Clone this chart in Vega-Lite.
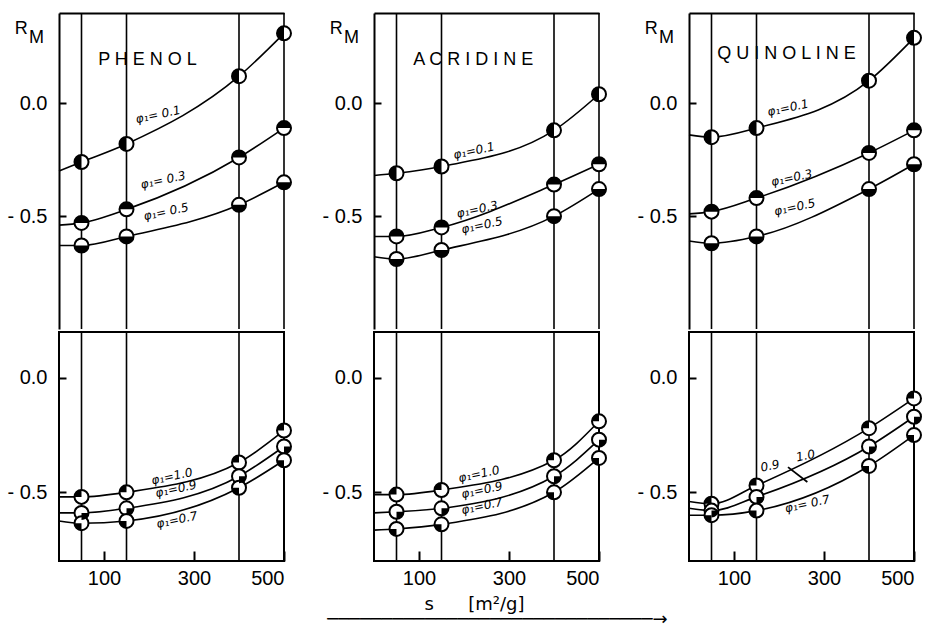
{
  "$schema": "https://vega.github.io/schema/vega-lite/v6.json",
  "background": "white",
  "padding": {"left": 5, "right": 5, "top": 12, "bottom": 2},
  "spacing": 0,
  "title": {
    "text": ["\u200b\u00a0\u00a0\u00a0s\u00a0\u00a0\u00a0\u00a0\u00a0\u00a0[m²/g]", "\u200b\u00a0\u00a0\u00a0\u00a0\u00a0\u00a0\u00a0\u00a0\u00a0\u00a0\u00a0──────────────────────────────→"],
    "orient": "bottom",
    "anchor": "middle",
    "font": "DejaVu Sans",
    "fontSize": 18,
    "fontWeight": "normal",
    "lineHeight": 15,
    "offset": 8,
    "color": "black"
  },
  "datasets": {
    "d": [
      {"kind": "vline", "compound": "PHENOL", "part": "both", "s": 50},
      {"kind": "vline", "compound": "PHENOL", "part": "both", "s": 150},
      {"kind": "vline", "compound": "PHENOL", "part": "both", "s": 400},
      {"kind": "vline", "compound": "PHENOL", "part": "both", "s": 500},
      {"kind": "vline", "compound": "ACRIDINE", "part": "both", "s": 50},
      {"kind": "vline", "compound": "ACRIDINE", "part": "both", "s": 150},
      {"kind": "vline", "compound": "ACRIDINE", "part": "both", "s": 400},
      {"kind": "vline", "compound": "ACRIDINE", "part": "both", "s": 500},
      {"kind": "vline", "compound": "QUINOLINE", "part": "both", "s": 50},
      {"kind": "vline", "compound": "QUINOLINE", "part": "both", "s": 150},
      {"kind": "vline", "compound": "QUINOLINE", "part": "both", "s": 400},
      {"kind": "vline", "compound": "QUINOLINE", "part": "both", "s": 500},

      {"kind": "start", "compound": "PHENOL", "part": "upper", "phi": "0.1", "s": 0, "RM": -0.30},
      {"kind": "pt", "compound": "PHENOL", "part": "upper", "phi": "0.1", "s": 50, "RM": -0.26},
      {"kind": "pt", "compound": "PHENOL", "part": "upper", "phi": "0.1", "s": 150, "RM": -0.18},
      {"kind": "pt", "compound": "PHENOL", "part": "upper", "phi": "0.1", "s": 400, "RM": 0.12},
      {"kind": "pt", "compound": "PHENOL", "part": "upper", "phi": "0.1", "s": 500, "RM": 0.31},
      {"kind": "start", "compound": "PHENOL", "part": "upper", "phi": "0.3", "s": 0, "RM": -0.54},
      {"kind": "pt", "compound": "PHENOL", "part": "upper", "phi": "0.3", "s": 50, "RM": -0.53},
      {"kind": "pt", "compound": "PHENOL", "part": "upper", "phi": "0.3", "s": 150, "RM": -0.47},
      {"kind": "pt", "compound": "PHENOL", "part": "upper", "phi": "0.3", "s": 400, "RM": -0.24},
      {"kind": "pt", "compound": "PHENOL", "part": "upper", "phi": "0.3", "s": 500, "RM": -0.11},
      {"kind": "start", "compound": "PHENOL", "part": "upper", "phi": "0.5", "s": 0, "RM": -0.63},
      {"kind": "pt", "compound": "PHENOL", "part": "upper", "phi": "0.5", "s": 50, "RM": -0.63},
      {"kind": "pt", "compound": "PHENOL", "part": "upper", "phi": "0.5", "s": 150, "RM": -0.59},
      {"kind": "pt", "compound": "PHENOL", "part": "upper", "phi": "0.5", "s": 400, "RM": -0.45},
      {"kind": "pt", "compound": "PHENOL", "part": "upper", "phi": "0.5", "s": 500, "RM": -0.35},

      {"kind": "start", "compound": "PHENOL", "part": "lower", "phi": "1.0", "s": 0, "RM": -0.52},
      {"kind": "pt", "compound": "PHENOL", "part": "lower", "phi": "1.0", "s": 50, "RM": -0.52},
      {"kind": "pt", "compound": "PHENOL", "part": "lower", "phi": "1.0", "s": 150, "RM": -0.50},
      {"kind": "pt", "compound": "PHENOL", "part": "lower", "phi": "1.0", "s": 400, "RM": -0.37},
      {"kind": "pt", "compound": "PHENOL", "part": "lower", "phi": "1.0", "s": 500, "RM": -0.23},
      {"kind": "start", "compound": "PHENOL", "part": "lower", "phi": "0.9", "s": 0, "RM": -0.59},
      {"kind": "pt", "compound": "PHENOL", "part": "lower", "phi": "0.9", "s": 50, "RM": -0.59},
      {"kind": "pt", "compound": "PHENOL", "part": "lower", "phi": "0.9", "s": 150, "RM": -0.57},
      {"kind": "pt", "compound": "PHENOL", "part": "lower", "phi": "0.9", "s": 400, "RM": -0.43},
      {"kind": "pt", "compound": "PHENOL", "part": "lower", "phi": "0.9", "s": 500, "RM": -0.30},
      {"kind": "start", "compound": "PHENOL", "part": "lower", "phi": "0.7", "s": 0, "RM": -0.625},
      {"kind": "pt", "compound": "PHENOL", "part": "lower", "phi": "0.7", "s": 50, "RM": -0.635},
      {"kind": "pt", "compound": "PHENOL", "part": "lower", "phi": "0.7", "s": 150, "RM": -0.625},
      {"kind": "pt", "compound": "PHENOL", "part": "lower", "phi": "0.7", "s": 400, "RM": -0.48},
      {"kind": "pt", "compound": "PHENOL", "part": "lower", "phi": "0.7", "s": 500, "RM": -0.36},

      {"kind": "start", "compound": "ACRIDINE", "part": "upper", "phi": "0.1", "s": 0, "RM": -0.32},
      {"kind": "pt", "compound": "ACRIDINE", "part": "upper", "phi": "0.1", "s": 50, "RM": -0.31},
      {"kind": "pt", "compound": "ACRIDINE", "part": "upper", "phi": "0.1", "s": 150, "RM": -0.28},
      {"kind": "pt", "compound": "ACRIDINE", "part": "upper", "phi": "0.1", "s": 400, "RM": -0.12},
      {"kind": "pt", "compound": "ACRIDINE", "part": "upper", "phi": "0.1", "s": 500, "RM": 0.04},
      {"kind": "start", "compound": "ACRIDINE", "part": "upper", "phi": "0.3", "s": 0, "RM": -0.59},
      {"kind": "pt", "compound": "ACRIDINE", "part": "upper", "phi": "0.3", "s": 50, "RM": -0.59},
      {"kind": "pt", "compound": "ACRIDINE", "part": "upper", "phi": "0.3", "s": 150, "RM": -0.55},
      {"kind": "pt", "compound": "ACRIDINE", "part": "upper", "phi": "0.3", "s": 400, "RM": -0.36},
      {"kind": "pt", "compound": "ACRIDINE", "part": "upper", "phi": "0.3", "s": 500, "RM": -0.27},
      {"kind": "start", "compound": "ACRIDINE", "part": "upper", "phi": "0.5", "s": 0, "RM": -0.68},
      {"kind": "pt", "compound": "ACRIDINE", "part": "upper", "phi": "0.5", "s": 50, "RM": -0.69},
      {"kind": "pt", "compound": "ACRIDINE", "part": "upper", "phi": "0.5", "s": 150, "RM": -0.65},
      {"kind": "pt", "compound": "ACRIDINE", "part": "upper", "phi": "0.5", "s": 400, "RM": -0.50},
      {"kind": "pt", "compound": "ACRIDINE", "part": "upper", "phi": "0.5", "s": 500, "RM": -0.38},

      {"kind": "start", "compound": "ACRIDINE", "part": "lower", "phi": "1.0", "s": 0, "RM": -0.51},
      {"kind": "pt", "compound": "ACRIDINE", "part": "lower", "phi": "1.0", "s": 50, "RM": -0.51},
      {"kind": "pt", "compound": "ACRIDINE", "part": "lower", "phi": "1.0", "s": 150, "RM": -0.49},
      {"kind": "pt", "compound": "ACRIDINE", "part": "lower", "phi": "1.0", "s": 400, "RM": -0.36},
      {"kind": "pt", "compound": "ACRIDINE", "part": "lower", "phi": "1.0", "s": 500, "RM": -0.19},
      {"kind": "start", "compound": "ACRIDINE", "part": "lower", "phi": "0.9", "s": 0, "RM": -0.59},
      {"kind": "pt", "compound": "ACRIDINE", "part": "lower", "phi": "0.9", "s": 50, "RM": -0.585},
      {"kind": "pt", "compound": "ACRIDINE", "part": "lower", "phi": "0.9", "s": 150, "RM": -0.57},
      {"kind": "pt", "compound": "ACRIDINE", "part": "lower", "phi": "0.9", "s": 400, "RM": -0.43},
      {"kind": "pt", "compound": "ACRIDINE", "part": "lower", "phi": "0.9", "s": 500, "RM": -0.27},
      {"kind": "start", "compound": "ACRIDINE", "part": "lower", "phi": "0.7", "s": 0, "RM": -0.665},
      {"kind": "pt", "compound": "ACRIDINE", "part": "lower", "phi": "0.7", "s": 50, "RM": -0.66},
      {"kind": "pt", "compound": "ACRIDINE", "part": "lower", "phi": "0.7", "s": 150, "RM": -0.64},
      {"kind": "pt", "compound": "ACRIDINE", "part": "lower", "phi": "0.7", "s": 400, "RM": -0.50},
      {"kind": "pt", "compound": "ACRIDINE", "part": "lower", "phi": "0.7", "s": 500, "RM": -0.35},

      {"kind": "start", "compound": "QUINOLINE", "part": "upper", "phi": "0.1", "s": 0, "RM": -0.14},
      {"kind": "pt", "compound": "QUINOLINE", "part": "upper", "phi": "0.1", "s": 50, "RM": -0.15},
      {"kind": "pt", "compound": "QUINOLINE", "part": "upper", "phi": "0.1", "s": 150, "RM": -0.11},
      {"kind": "pt", "compound": "QUINOLINE", "part": "upper", "phi": "0.1", "s": 400, "RM": 0.10},
      {"kind": "pt", "compound": "QUINOLINE", "part": "upper", "phi": "0.1", "s": 500, "RM": 0.29},
      {"kind": "start", "compound": "QUINOLINE", "part": "upper", "phi": "0.3", "s": 0, "RM": -0.49},
      {"kind": "pt", "compound": "QUINOLINE", "part": "upper", "phi": "0.3", "s": 50, "RM": -0.48},
      {"kind": "pt", "compound": "QUINOLINE", "part": "upper", "phi": "0.3", "s": 150, "RM": -0.42},
      {"kind": "pt", "compound": "QUINOLINE", "part": "upper", "phi": "0.3", "s": 400, "RM": -0.22},
      {"kind": "pt", "compound": "QUINOLINE", "part": "upper", "phi": "0.3", "s": 500, "RM": -0.12},
      {"kind": "start", "compound": "QUINOLINE", "part": "upper", "phi": "0.5", "s": 0, "RM": -0.61},
      {"kind": "pt", "compound": "QUINOLINE", "part": "upper", "phi": "0.5", "s": 50, "RM": -0.62},
      {"kind": "pt", "compound": "QUINOLINE", "part": "upper", "phi": "0.5", "s": 150, "RM": -0.59},
      {"kind": "pt", "compound": "QUINOLINE", "part": "upper", "phi": "0.5", "s": 400, "RM": -0.38},
      {"kind": "pt", "compound": "QUINOLINE", "part": "upper", "phi": "0.5", "s": 500, "RM": -0.27},

      {"kind": "start", "compound": "QUINOLINE", "part": "lower", "phi": "1.0", "s": 0, "RM": -0.54},
      {"kind": "pt", "compound": "QUINOLINE", "part": "lower", "phi": "1.0", "s": 50, "RM": -0.55},
      {"kind": "pt", "compound": "QUINOLINE", "part": "lower", "phi": "1.0", "s": 150, "RM": -0.47},
      {"kind": "pt", "compound": "QUINOLINE", "part": "lower", "phi": "1.0", "s": 400, "RM": -0.22},
      {"kind": "pt", "compound": "QUINOLINE", "part": "lower", "phi": "1.0", "s": 500, "RM": -0.09},
      {"kind": "start", "compound": "QUINOLINE", "part": "lower", "phi": "0.9", "s": 0, "RM": -0.57},
      {"kind": "pt", "compound": "QUINOLINE", "part": "lower", "phi": "0.9", "s": 50, "RM": -0.58},
      {"kind": "pt", "compound": "QUINOLINE", "part": "lower", "phi": "0.9", "s": 150, "RM": -0.52},
      {"kind": "pt", "compound": "QUINOLINE", "part": "lower", "phi": "0.9", "s": 400, "RM": -0.30},
      {"kind": "pt", "compound": "QUINOLINE", "part": "lower", "phi": "0.9", "s": 500, "RM": -0.17},
      {"kind": "start", "compound": "QUINOLINE", "part": "lower", "phi": "0.7", "s": 0, "RM": -0.60},
      {"kind": "pt", "compound": "QUINOLINE", "part": "lower", "phi": "0.7", "s": 50, "RM": -0.60},
      {"kind": "pt", "compound": "QUINOLINE", "part": "lower", "phi": "0.7", "s": 150, "RM": -0.58},
      {"kind": "pt", "compound": "QUINOLINE", "part": "lower", "phi": "0.7", "s": 400, "RM": -0.385},
      {"kind": "pt", "compound": "QUINOLINE", "part": "lower", "phi": "0.7", "s": 500, "RM": -0.25},

      {"kind": "lab", "compound": "PHENOL", "part": "upper", "s": 220, "RM": -0.05, "text": "φ₁= 0.1"},
      {"kind": "lab", "compound": "PHENOL", "part": "upper", "s": 231, "RM": -0.34, "text": "φ₁= 0.3"},
      {"kind": "lab", "compound": "PHENOL", "part": "upper", "s": 238, "RM": -0.48, "text": "φ₁= 0.5"},
      {"kind": "lab", "compound": "PHENOL", "part": "lower", "s": 251, "RM": -0.43, "text": "φ₁=1.0"},
      {"kind": "lab", "compound": "PHENOL", "part": "lower", "s": 260, "RM": -0.485, "text": "φ₁=0.9"},
      {"kind": "lab", "compound": "PHENOL", "part": "lower", "s": 262, "RM": -0.62, "text": "φ₁=0.7"},
      {"kind": "lab", "compound": "ACRIDINE", "part": "upper", "s": 222, "RM": -0.21, "text": "φ₁=0.1"},
      {"kind": "lab", "compound": "ACRIDINE", "part": "upper", "s": 229, "RM": -0.47, "text": "φ₁=0.3"},
      {"kind": "lab", "compound": "ACRIDINE", "part": "upper", "s": 240, "RM": -0.54, "text": "φ₁=0.5"},
      {"kind": "lab", "compound": "ACRIDINE", "part": "lower", "s": 233, "RM": -0.42, "text": "φ₁=1.0"},
      {"kind": "lab", "compound": "ACRIDINE", "part": "lower", "s": 240, "RM": -0.49, "text": "φ₁=0.9"},
      {"kind": "lab", "compound": "ACRIDINE", "part": "lower", "s": 240, "RM": -0.56, "text": "φ₁=0.7"},
      {"kind": "lab", "compound": "QUINOLINE", "part": "upper", "s": 220, "RM": -0.02, "text": "φ₁=0.1"},
      {"kind": "lab", "compound": "QUINOLINE", "part": "upper", "s": 228, "RM": -0.33, "text": "φ₁=0.3"},
      {"kind": "lab", "compound": "QUINOLINE", "part": "upper", "s": 235, "RM": -0.46, "text": "φ₁=0.5"},
      {"kind": "lab", "compound": "QUINOLINE", "part": "lower", "s": 180, "RM": -0.385, "text": "0.9"},
      {"kind": "lab", "compound": "QUINOLINE", "part": "lower", "s": 259, "RM": -0.34, "text": "1.0"},
      {"kind": "lab", "compound": "QUINOLINE", "part": "lower", "s": 263, "RM": -0.55, "text": "φ₁= 0.7"},
      {"kind": "ptr", "compound": "QUINOLINE", "part": "lower", "s": 220, "s2": 263, "RM": -0.39, "RM2": -0.455},

      {"kind": "name", "compound": "PHENOL", "part": "upper", "s": 87, "RM": 0.19, "text": "P H E N O L"},
      {"kind": "name", "compound": "ACRIDINE", "part": "upper", "s": 87, "RM": 0.19, "text": "A C R I D I N E"},
      {"kind": "name", "compound": "QUINOLINE", "part": "upper", "s": 63, "RM": 0.22, "text": "Q U I N O L I N E"},

      {"kind": "R", "compound": "PHENOL", "part": "upper", "s": -84, "RM": 0.33, "text": "R"},
      {"kind": "M", "compound": "PHENOL", "part": "upper", "s": -50, "RM": 0.29, "text": "M"},
      {"kind": "R", "compound": "ACRIDINE", "part": "upper", "s": -84, "RM": 0.33, "text": "R"},
      {"kind": "M", "compound": "ACRIDINE", "part": "upper", "s": -50, "RM": 0.29, "text": "M"},
      {"kind": "R", "compound": "QUINOLINE", "part": "upper", "s": -84, "RM": 0.33, "text": "R"},
      {"kind": "M", "compound": "QUINOLINE", "part": "upper", "s": -50, "RM": 0.29, "text": "M"}
    ]
  },
  "config": {
    "view": {"stroke": "black", "strokeWidth": 2},
    "axis": {
      "grid": false,
      "domain": false,
      "ticks": true,
      "labelFont": "Liberation Sans",
      "labelFontSize": 20,
      "labelColor": "black",
      "tickColor": "black",
      "tickWidth": 2
    },
    "text": {"color": "black"}
  },
  "vconcat": [
    {
      "data": {"name": "d"},
      "transform": [{"filter": "datum.part == 'upper' || datum.part == 'both'"}],
      "facet": {"column": {"field": "compound", "type": "nominal", "sort": ["PHENOL", "ACRIDINE", "QUINOLINE"], "header": null}},
      "spacing": {"column": 90},
      "bounds": "flush",
      "resolve": {"axis": {"y": "independent"}},
      "spec": {
        "width": 225,
        "height": 316,
        "view": {"stroke": null},
        "layer": [
          {
            "transform": [{"filter": "datum.kind == 'vline'"}],
            "mark": {"type": "rule", "color": "black", "strokeWidth": 1.6},
            "encoding": {"x": {"field": "s", "type": "quantitative", "scale": {"domain": [0, 500], "nice": false, "zero": false},
              "axis": {"orient": "top", "labels": false, "ticks": false, "domain": true, "domainColor": "black", "domainWidth": 2, "title": null}}}
          },
          {
            "transform": [{"filter": "datum.kind == 'pt' || datum.kind == 'start'"}],
            "mark": {"type": "line", "color": "black", "strokeWidth": 1.6, "interpolate": "monotone"},
            "encoding": {
              "x": {"field": "s", "type": "quantitative"},
              "y": {"field": "RM", "type": "quantitative", "scale": {"domain": [-1.0, 0.4], "nice": false, "zero": false},
                    "axis": {"values": [0, -0.5], "title": null, "domain": true, "domainColor": "black", "domainWidth": 2, "tickSize": -7, "labelPadding": 19,
                             "labelExpr": "datum.value == 0 ? '0.0' : '- 0.5'"}},
              "detail": {"field": "phi"}
            }
          },
          {
            "transform": [{"filter": "datum.kind == 'pt'"}],
            "mark": {"type": "point", "shape": "M1,0A1,1 0 1,1 -1,0A1,1 0 1,1 1,0Z", "filled": true, "fill": "white", "stroke": "black", "strokeWidth": 2, "size": 196, "opacity": 1},
            "encoding": {
              "x": {"field": "s", "type": "quantitative"},
              "y": {"field": "RM", "type": "quantitative"}
            }
          },
          {
            "transform": [{"filter": "datum.kind == 'pt'"}],
            "mark": {"type": "point", "filled": true, "fill": "black", "strokeWidth": 0, "size": 196, "opacity": 1},
            "encoding": {
              "x": {"field": "s", "type": "quantitative"},
              "y": {"field": "RM", "type": "quantitative"},
              "shape": {"field": "phi", "type": "nominal", "legend": null,
                "scale": {"domain": ["0.1", "0.3", "0.5", "1.0", "0.9", "0.7"],
                  "range": ["M0,-1A1,1 0 0,0 0,1Z", "M-1,0A1,1 0 0,1 1,0Z", "M-1,0A1,1 0 0,0 1,0Z", "M0,0L-1,0A1,1 0 0,1 0,-1Z", "M0,0L1,0A1,1 0 0,1 0,1Z", "M0,0L0,1A1,1 0 0,1 -1,0Z"]}}
            }
          },
          {
            "transform": [{"filter": "datum.kind == 'lab'"}],
            "mark": {"type": "text", "font": "DejaVu Sans", "fontSize": 12, "fontStyle": "italic", "angle": -12},
            "encoding": {
              "x": {"field": "s", "type": "quantitative"},
              "y": {"field": "RM", "type": "quantitative"},
              "text": {"field": "text"}
            }
          },
          {
            "transform": [{"filter": "datum.kind == 'name'"}],
            "mark": {"type": "text", "font": "Liberation Sans", "fontSize": 18, "align": "left", "baseline": "middle"},
            "encoding": {
              "x": {"field": "s", "type": "quantitative"},
              "y": {"field": "RM", "type": "quantitative"},
              "text": {"field": "text"}
            }
          },
          {
            "transform": [{"filter": "datum.kind == 'R' || datum.kind == 'M'"}],
            "mark": {"type": "text", "font": "Liberation Sans", "fontSize": 18, "align": "center", "baseline": "middle"},
            "encoding": {
              "x": {"field": "s", "type": "quantitative"},
              "y": {"field": "RM", "type": "quantitative"},
              "text": {"field": "text"}
            }
          }
        ]
      }
    },
    {
      "data": {"name": "d"},
      "transform": [{"filter": "datum.part == 'lower' || datum.part == 'both'"}],
      "facet": {"column": {"field": "compound", "type": "nominal", "sort": ["PHENOL", "ACRIDINE", "QUINOLINE"], "header": null}},
      "spacing": {"column": 90},
      "bounds": "flush",
      "resolve": {"axis": {"y": "independent"}},
      "spec": {
        "width": 225,
        "height": 229,
        "layer": [
          {
            "transform": [{"filter": "datum.kind == 'vline'"}],
            "mark": {"type": "rule", "color": "black", "strokeWidth": 1.6},
            "encoding": {"x": {"field": "s", "type": "quantitative", "scale": {"domain": [0, 500], "nice": false, "zero": false},
              "axis": {"values": [100, 300, 500], "title": null, "tickSize": -10, "labelPadding": 17}}}
          },
          {
            "transform": [{"filter": "datum.kind == 'pt' || datum.kind == 'start'"}],
            "mark": {"type": "line", "color": "black", "strokeWidth": 1.6, "interpolate": "monotone"},
            "encoding": {
              "x": {"field": "s", "type": "quantitative"},
              "y": {"field": "RM", "type": "quantitative", "scale": {"domain": [-0.8, 0.2], "nice": false, "zero": false},
                    "axis": {"values": [0, -0.5], "title": null, "tickSize": -7, "labelPadding": 19,
                             "labelExpr": "datum.value == 0 ? '0.0' : '- 0.5'"}},
              "detail": {"field": "phi"}
            }
          },
          {
            "transform": [{"filter": "datum.kind == 'ptr'"}],
            "mark": {"type": "rule", "color": "black", "strokeWidth": 1.8},
            "encoding": {
              "x": {"field": "s", "type": "quantitative"},
              "x2": {"field": "s2"},
              "y": {"field": "RM", "type": "quantitative"},
              "y2": {"field": "RM2"}
            }
          },
          {
            "transform": [{"filter": "datum.kind == 'pt'"}],
            "mark": {"type": "point", "shape": "M1,0A1,1 0 1,1 -1,0A1,1 0 1,1 1,0Z", "filled": true, "fill": "white", "stroke": "black", "strokeWidth": 2, "size": 196, "opacity": 1},
            "encoding": {
              "x": {"field": "s", "type": "quantitative"},
              "y": {"field": "RM", "type": "quantitative"}
            }
          },
          {
            "transform": [{"filter": "datum.kind == 'pt'"}],
            "mark": {"type": "point", "filled": true, "fill": "black", "strokeWidth": 0, "size": 196, "opacity": 1},
            "encoding": {
              "x": {"field": "s", "type": "quantitative"},
              "y": {"field": "RM", "type": "quantitative"},
              "shape": {"field": "phi", "type": "nominal", "legend": null,
                "scale": {"domain": ["0.1", "0.3", "0.5", "1.0", "0.9", "0.7"],
                  "range": ["M0,-1A1,1 0 0,0 0,1Z", "M-1,0A1,1 0 0,1 1,0Z", "M-1,0A1,1 0 0,0 1,0Z", "M0,0L-1,0A1,1 0 0,1 0,-1Z", "M0,0L1,0A1,1 0 0,1 0,1Z", "M0,0L0,1A1,1 0 0,1 -1,0Z"]}}
            }
          },
          {
            "transform": [{"filter": "datum.kind == 'lab'"}],
            "mark": {"type": "text", "font": "DejaVu Sans", "fontSize": 12, "fontStyle": "italic", "angle": -12},
            "encoding": {
              "x": {"field": "s", "type": "quantitative"},
              "y": {"field": "RM", "type": "quantitative"},
              "text": {"field": "text"}
            }
          }
        ]
      }
    }
  ]
}
